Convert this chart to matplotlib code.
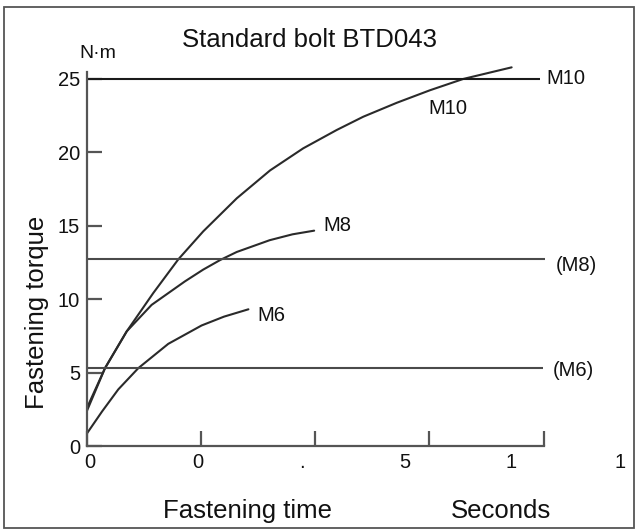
import matplotlib
matplotlib.use("Agg")
import matplotlib.pyplot as plt
from matplotlib.patches import Rectangle

plt.rcParams['font.family'] = ['Liberation Sans', 'DejaVu Sans']

# ---- data ----
time_m10 = [0.0, 0.079, 0.174, 0.29, 0.40, 0.509, 0.656, 0.802, 0.947, 1.094, 1.210, 1.357,
            1.502, 1.648, 1.860]
torque_m10 = [2.6, 5.3, 7.8, 10.4, 12.7, 14.6, 16.85, 18.75, 20.25, 21.5, 22.4, 23.35,
              24.2, 24.97, 25.76]

time_m8 = [0.0, 0.079, 0.174, 0.283, 0.429, 0.509, 0.583, 0.656, 0.80, 0.90, 0.995]
torque_m8 = [2.4, 5.3, 7.8, 9.6, 11.2, 12.0, 12.65, 13.2, 14.0, 14.4, 14.65]

time_m6 = [0.0, 0.066, 0.137, 0.225, 0.356, 0.502, 0.60, 0.707]
torque_m6 = [0.86, 2.35, 3.85, 5.3, 6.95, 8.2, 8.8, 9.3]

std_names = ["M10", "(M8)", "(M6)"]
std_torque = [25.0, 12.7, 5.3]

curve_names = ["M10", "M8", "M6"]

y_ticks = [0, 5, 10, 15, 20, 25]
y_tick_labels = ["0", "5", "10", "15", "20", "25"]
x_ticks = [0, 0.5, 1.0, 1.5, 2.0]
x_label_texts = ["0", "0", ".", "5", "1", "1"]

# ---- layout constants ----
x_label_pos = [0.013, 0.486, 0.94, 1.393, 1.857, 2.334]
std_line_end = [1.985, 2.006, 1.997]
std_label_pos = [(2.012, 25.0), (2.054, 12.3), (2.041, 5.12)]
curve_label_pos = [(1.581, 22.96), (1.097, 15.0), (0.806, 8.9)]

fig = plt.figure(figsize=(6.37, 5.31), dpi=100)
ax = fig.add_axes([87 / 637, 85 / 531, 456.6 / 637, 374.1 / 531])

curve_color = '#2a2a2a'
lw = 1.5
for tx, ty in [(time_m10, torque_m10), (time_m8, torque_m8), (time_m6, torque_m6)]:
    ax.plot(tx, ty, color=curve_color, lw=lw, clip_on=False,
            solid_joinstyle='round', solid_capstyle='round')

line_colors = ['#1a1a1a', '#4a4a4a', '#4a4a4a']
for val, xe, c in zip(std_torque, std_line_end, line_colors):
    ax.hlines(val, 0, xe, color=c, lw=lw, clip_on=False)

fs_lab = 14.5
for name, (x, y) in zip(std_names, std_label_pos):
    ax.text(x, y, name, ha='left', va='center', fontsize=fs_lab, color='#111', clip_on=False)
for name, (x, y) in zip(curve_names, curve_label_pos):
    ax.text(x, y, name, ha='center', va='center', fontsize=fs_lab, color='#111', clip_on=False)

ax.set_xlim(0, 2.0)
ax.set_ylim(0, 25.45)
for s in ['top', 'right']:
    ax.spines[s].set_visible(False)
for s in ['left', 'bottom']:
    ax.spines[s].set_color('#555555')
    ax.spines[s].set_linewidth(1.6)

ax.set_yticks(y_ticks)
ax.set_yticklabels(y_tick_labels, fontsize=14.5, color='#111')
ax.set_xticks(x_ticks)
ax.set_xticklabels([''] * len(x_ticks))
ax.tick_params(axis='both', direction='in', length=11, width=1.6, color='#555555')
ax.tick_params(axis='y', pad=5)

xt = ax.get_xaxis_transform()
for x, t in zip(x_label_pos, x_label_texts):
    ax.text(x, -0.045, t, transform=xt, ha='center', va='center', fontsize=14.5,
            color='#111', clip_on=False)

big = 18.5
fig.text(309 / 637, (531 - 47) / 531, "Standard bolt BTD043", ha='center', va='baseline',
         fontsize=big, color='#111')
fig.text(79 / 637, (531 - 58) / 531, "N·m", ha='left', va='baseline', fontsize=14, color='#111')
fig.text(37 / 637, (531 - 312) / 531, "Fastening torque", rotation=90, ha='center', va='center',
         fontsize=big, color='#111')
fig.text(163 / 637, (531 - 518) / 531, "Fastening time", ha='left', va='baseline',
         fontsize=big, color='#111')
fig.text(451 / 637, (531 - 518) / 531, "Seconds", ha='left', va='baseline',
         fontsize=big, color='#111')

fig.add_artist(Rectangle((4 / 637, 3 / 531), 630 / 637, 521 / 531, transform=fig.transFigure,
                         fill=False, ec='#555555', lw=1.3))

fig.savefig("out.png", dpi=100)
